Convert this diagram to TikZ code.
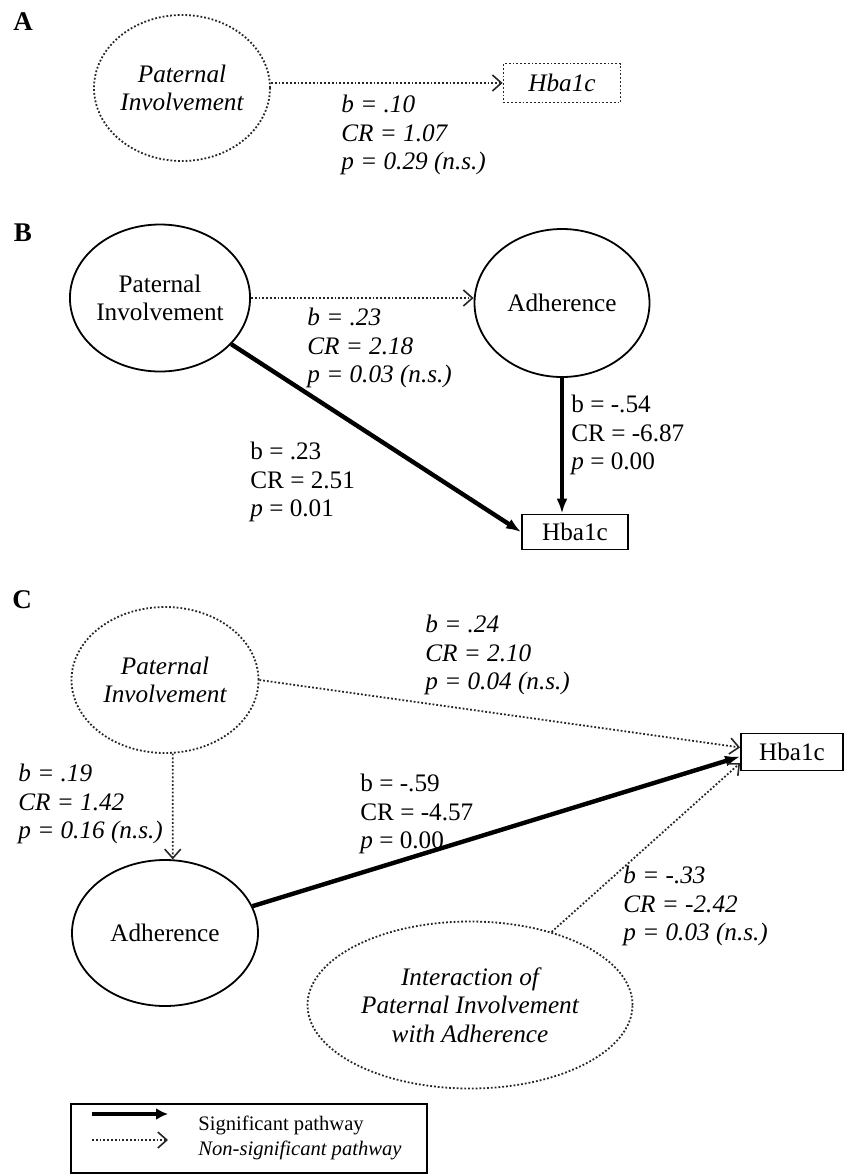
\documentclass[tikz,border=0pt]{standalone}
\usepackage{fontspec}
\setmainfont{Liberation Serif}
\usetikzlibrary{arrows.meta,shapes.geometric,positioning}
\newcommand{\figfont}{\fontsize{12.6}{14.25}\selectfont}
\newcommand{\keyfont}{\fontsize{10.3}{12}\selectfont}
\tikzset{sig/.style={draw=black, line width=2.2pt, -{Latex[length=7.5pt,width=5.5pt]}}}
\tikzset{nsig/.style={draw=black!85, line width=0.9pt, densely dotted,
    -{Straight Barb[length=4.5pt,width=8pt,line width=0.8pt]}}}
\tikzset{latent/.style={shape=ellipse, draw, line width=0.9pt, align=center, inner sep=0pt}}
\tikzset{latentns/.style={latent, draw=black!85, densely dotted}}
\tikzset{observed/.style={shape=rectangle, draw, line width=0.9pt, inner sep=0pt}}
\tikzset{coef/.style={anchor=north west, align=left, inner sep=0pt}}
\tikzset{it/.style={font=\figfont\itshape}}
\tikzset{panel/.style={font=\fontsize{13.5}{16}\selectfont\bfseries}}

\begin{document}
\begin{tikzpicture}[x=0.5pt, y=-0.5pt, font=\figfont]
    \useasboundingbox (0,0) rectangle (846,1174);
    % panel A
    \node[panel] (tA) at (23,22) {A};
    \node[latentns, it, minimum width=88pt, minimum height=73pt] (pA) at (182,88) {Paternal\\Involvement};
    \node[observed, it, draw=black!85, densely dotted, minimum width=58.5pt, minimum height=19.5pt] (hA) at (562,83) {Hba1c};
    \node[coef, it] (cA) at (341,95) {b = .10\\CR = 1.07\\p = 0.29 (n.s.)};
    \draw[nsig] (pA.east |- hA) to (hA.west);

    % panel B
    \node[panel] (tB) at (23,233) {B};
    \node[latent, minimum width=87.5pt, minimum height=73.5pt] (pB) at (160,298) {Paternal\\Involvement};
    \node[latent, minimum width=87.5pt, minimum height=74pt] (aB) at (562,303) {Adherence};
    \node[observed, minimum width=53pt, minimum height=17.5pt] (hB) at (575,532) {Hba1c};
    \node[coef, it] (cB1) at (307,308) {b = .23\\CR = 2.18\\p = 0.03 (n.s.)};
    \node[coef] (cB2) at (571,395) {b = -.54\\CR = -6.87\\\textit{p} = 0.00};
    \node[coef] (cB3) at (250,442) {b = .23\\CR = 2.51\\\textit{p} = 0.01};
    \draw[nsig] (pB.east) to (pB.east -| aB.west);
    \draw[sig] (aB.south) to (aB.south |- hB.north);
    \draw[sig] (pB) to (hB.west);

    % panel C
    \node[panel] (tC) at (22,600) {C};
    \node[latentns, it, minimum width=93.5pt, minimum height=73pt] (pC) at (165,680) {Paternal\\Involvement};
    \node[observed, minimum width=51pt, minimum height=18.5pt] (hC) at (792,752) {Hba1c};
    \node[latent, minimum width=93pt, minimum height=73pt] (aC) at (165,933) {Adherence};
    \node[latentns, it, minimum width=162.5pt, minimum height=83.5pt] (iC) at (470,1005) {Interaction of\\Paternal Involvement\\with Adherence};
    \node[coef, it] (cC1) at (425,615) {b = .24\\CR = 2.10\\p = 0.04 (n.s.)};
    \node[coef, it] (cC2) at (18,764) {b = .19\\CR = 1.42\\p = 0.16 (n.s.)};
    \node[coef] (cC3) at (360,774) {b = -.59\\CR = -4.57\\\textit{p} = 0.00};
    \node[coef, it] (cC4) at (623,866) {b = -.33\\CR = -2.42\\p = 0.03 (n.s.)};
    \draw[nsig] (pC.east) to (hC.175);
    \draw[nsig] (pC.-84) to (aC.84);
    \draw[sig] (aC) to (hC.185);
    \draw[nsig] (iC) to (hC.192);

    % key
    \node[observed, anchor=north west, minimum width=178pt, minimum height=34.5pt] (key) at (70,1103) {};
    \coordinate (k1) at (92,1114);
    \coordinate (k2) at (168,1114);
    \coordinate (k3) at (92,1140);
    \coordinate (k4) at (168,1140);
    \draw[sig, line width=1.6pt, -{Latex[length=6pt,width=6pt]}] (k1) to (k2);
    \draw[nsig] (k3) to (k4);
    \node[anchor=base west, inner sep=0pt, font=\keyfont] (kt1) at (198,1130) {Significant pathway};
    \node[anchor=base west, inner sep=0pt, font=\keyfont\itshape] (kt2) at (198,1155) {Non-significant pathway};
\end{tikzpicture}
\end{document}
